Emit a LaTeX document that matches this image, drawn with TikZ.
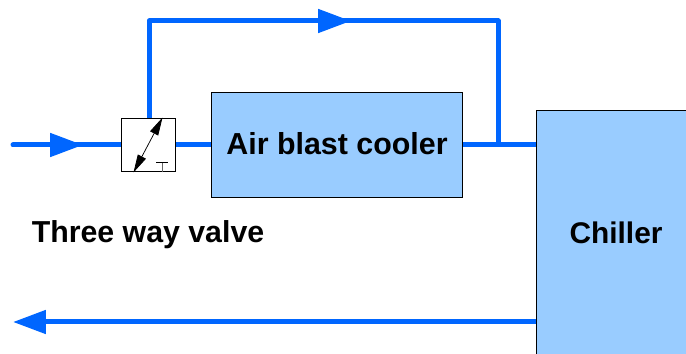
\documentclass[tikz,border=0pt]{standalone}
\usepackage{fontspec}
\setmainfont{Liberation Sans}
\usetikzlibrary{arrows.meta,calc}
\definecolor{pipeblue}{HTML}{0066FF}
\definecolor{boxblue}{HTML}{99CCFF}
\tikzset{
 box/.style
  = {rectangle, draw=black, fill=boxblue, line width=0.02cm, inner sep=0pt,
     text centered, font=\fontsize{17.3}{20}\selectfont\bfseries},
 sw/.style
  = {rectangle, draw=black, fill=white, line width=0.02cm, inner sep=0pt,
     minimum width=1.1cm, minimum height=1.08cm},
 pipe/.style
  = {draw=pipeblue, line width=0.1cm},
 tip/.style
  = {pipe, -{Triangle[length=0.66cm,width=0.46cm,fill=pipeblue]}},
 thin/.style
  = {draw=black, line width=0.015cm},
 swtip/.style
  = {thin, {Triangle[length=0.36cm,width=0.18cm,fill=black]}-{Triangle[length=0.36cm,width=0.18cm,fill=black]}},
}

\begin{document}
\begin{tikzpicture}[x=0.02cm,y=-0.02cm]

\useasboundingbox (0,0) rectangle (686,354);
\clip (0,0) rectangle (686,354);

% Free ends and corners of the pipes
\coordinate (inlet) at (13,145);
\coordinate (inflow) at (83,145);
\coordinate (corner1) at (149,21);
\coordinate (midflow) at (351,21);
\coordinate (corner2) at (498,21);
\coordinate (join) at (498,145);
\coordinate (outlet) at (13,322);

% Pipes
\draw[pipe,line cap=round] (inlet) -- (70,145);
\draw[pipe] (70,145) -- (211,145);
\draw[tip] (inlet) -- (inflow);
\draw[pipe,line join=round] (149,145) -- (corner1) -- (corner2) -- (join);
\draw[tip] (corner1) -- (midflow);
\draw[pipe] (463,145) -- (536,145);
\draw[tip] (536,322) -- (outlet);

% Valve
\node[sw] (valve) at (148.5,145) {};
\draw[swtip] (valve.south west) ++(13,0) coordinate (swa) -- ($(valve.north west)+(42,0)$) coordinate (swb);
\coordinate (stem) at ($(valve.south east)+(-14,0)$);
\draw[draw=black!60,line width=0.03cm] (stem) -- ++(0,-10) coordinate (stemtop);
\draw[draw=black,line width=0.02cm] ($(stemtop)+(-6,0)$) -- ($(stemtop)+(6,0)$);

% Cooler and chiller
\node[box,minimum width=5.04cm,minimum height=2.12cm] (cooler) at (337,145) {\raisebox{1.5pt}{Air blast cooler}};
\node[box,anchor=north west,minimum width=3.2cm,minimum height=5.2cm] (chiller) at (536,110) {};
\node[font=\fontsize{17}{20}\selectfont\bfseries] (chillertext) at (616,233) {Chiller};

% Valve label
\node[font=\fontsize{17.25}{20}\selectfont\bfseries] (valvetext) at (148,235) {Three way valve};

\end{tikzpicture}
\end{document}
